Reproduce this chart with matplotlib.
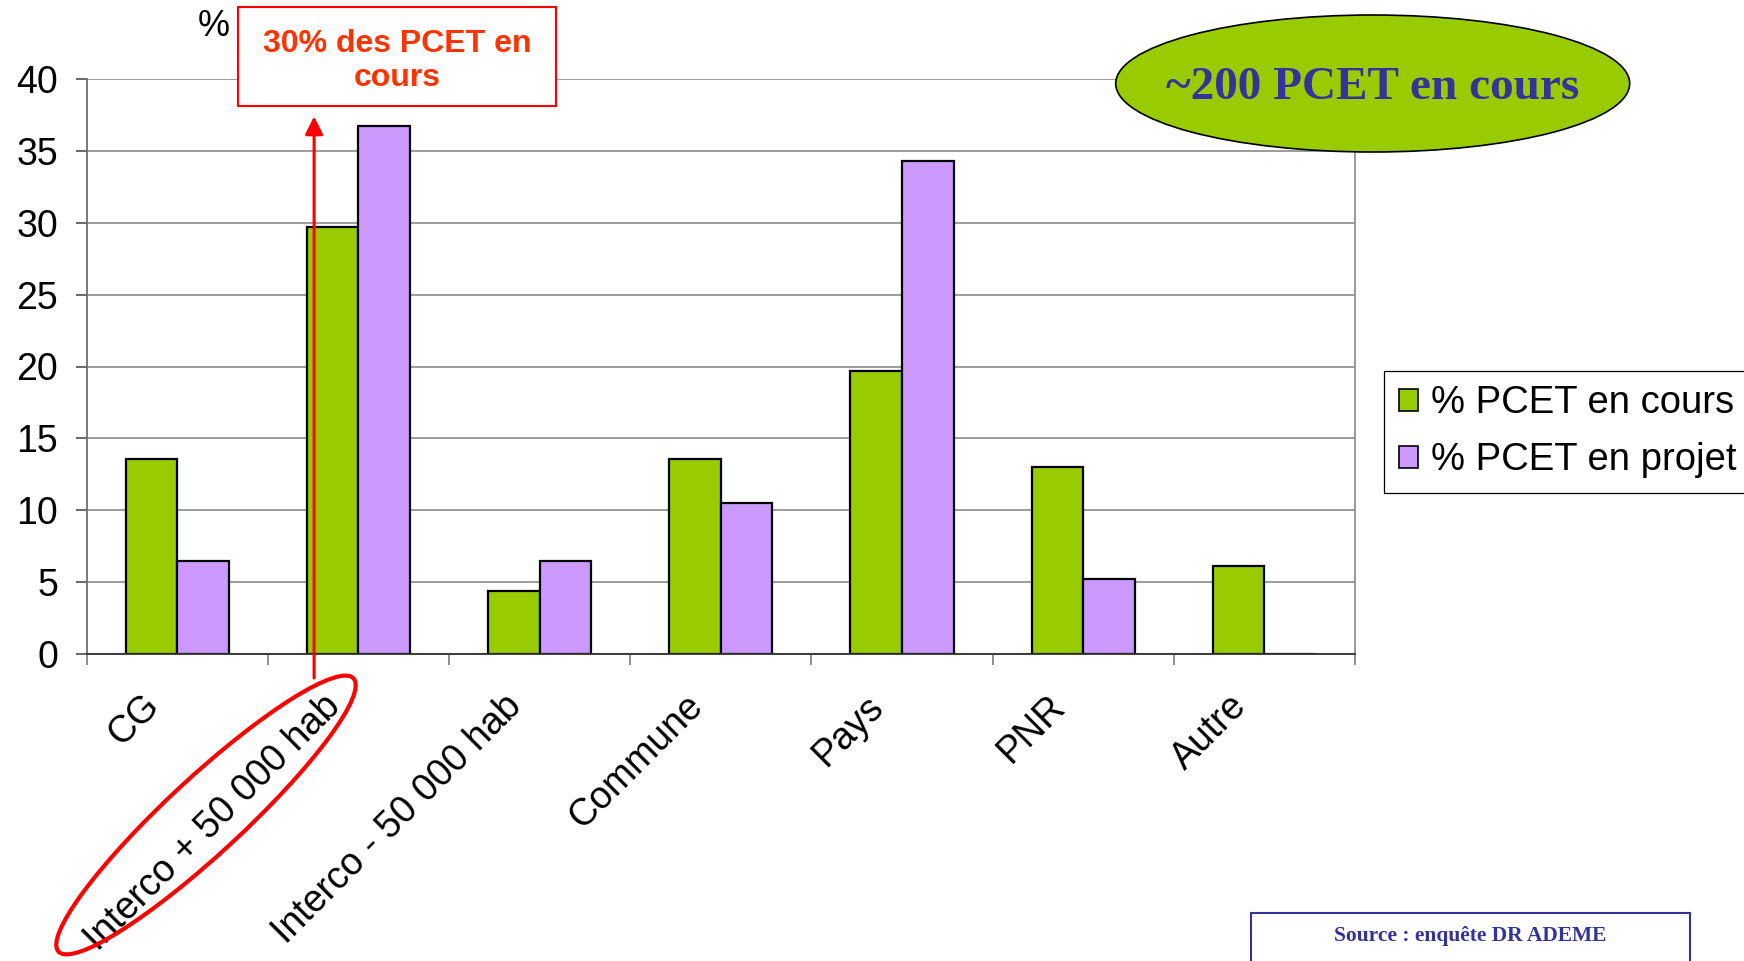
import matplotlib.pyplot as plt
import matplotlib.transforms as mtransforms
import numpy as np
from matplotlib.patches import Ellipse, Rectangle

plt.rcParams["font.family"] = ["Liberation Sans", "DejaVu Sans"]

categories = [
    "CG",
    "Interco + 50 000 hab",
    "Interco - 50 000 hab",
    "Commune",
    "Pays",
    "PNR",
    "Autre",
]
en_cours = [13.6, 29.7, 4.4, 13.6, 19.7, 13.0, 6.1]
en_projet = [6.5, 36.7, 6.5, 10.5, 34.3, 5.2, 0.0]
series_labels = ["% PCET en cours", "% PCET en projet"]
y_ticks = [0, 5, 10, 15, 20, 25, 30, 35, 40]

GREEN = "#99CC00"
PURPLE = "#CC99FF"
NAVY = "#333399"

W, H = 17.44, 9.61
fig = plt.figure(figsize=(W, H), dpi=100)
ax = fig.add_axes([86.7 / 1744, 1 - 654 / 961, (1355 - 86.7) / 1744, (654 - 79) / 961])

x = np.arange(len(categories))
bw = 0.285
ax.bar(x - bw / 2, en_cours, bw, color=GREEN, edgecolor="black", linewidth=1.6,
       label=series_labels[0], zorder=2)
ax.bar(x + bw / 2, en_projet, bw, color=PURPLE, edgecolor="black", linewidth=1.6,
       label=series_labels[1], zorder=2)

ax.set_xlim(-0.5, len(categories) - 0.5)
ax.set_ylim(0, 40)
ax.set_yticks(y_ticks)
ax.yaxis.grid(True, color="#808080", linewidth=1.1)
ax.set_axisbelow(True)

# category labels: rotated, end of text sits a little left of the category centre
ax.set_xticks(x)
ax.set_xticklabels([])
ax.set_xticks(np.arange(-0.5, len(categories), 1), minor=True)
ax.tick_params(axis="x", which="major", length=0)
ax.tick_params(axis="x", which="minor", length=8, width=1.1, color="#707070", direction="out")
ax.tick_params(axis="y", length=8, width=1.1, color="#404040", pad=12.5, labelsize=27)
lab_tr = ax.get_xaxis_transform() + mtransforms.ScaledTranslation(-0.36, -0.34, fig.dpi_scale_trans)
for xi, name in zip(x, categories):
    ax.text(xi, 0, name, transform=lab_tr, rotation=45, ha="right", va="top",
            rotation_mode="anchor", fontsize=27, clip_on=False)

ax.spines["top"].set_visible(False)
ax.spines["right"].set_color("#909090")
ax.spines["right"].set_linewidth(1.3)
ax.spines["left"].set_color("#707070")
ax.spines["left"].set_linewidth(1.3)
ax.spines["bottom"].set_color("#303030")
ax.spines["bottom"].set_linewidth(1.3)

fig.text(214 / 1744, 1 - 27 / 961, "%", ha="center", va="center", fontsize=26)

# callout box
fig.add_artist(Rectangle((2.38, (961 - 106) / 100), 3.18, 0.99, transform=fig.dpi_scale_trans,
                         facecolor="white", edgecolor="#FF0000", linewidth=1.5, zorder=5))
fig.text(3.97, (961 - 61) / 100, "30% des PCET en\ncours", transform=fig.dpi_scale_trans,
         ha="center", va="center", color="#FF3300", fontsize=23, fontweight="bold",
         linespacing=1.2, zorder=6)

# arrow from the highlighted label up to the callout
ax.annotate("", xy=(0.755, 37.4), xytext=(0.755, -1.67),
            arrowprops=dict(arrowstyle="-|>", color="#FF0000", lw=2.2, mutation_scale=27,
                            shrinkA=0, shrinkB=0),
            annotation_clip=False, zorder=4)

fig.add_artist(Ellipse((2.06, (961 - 815) / 100), 4.02, 0.76, angle=42.8,
                       transform=fig.dpi_scale_trans, facecolor="none",
                       edgecolor="#FF0000", linewidth=3, zorder=5))

# green ellipse
fig.add_artist(Ellipse((13.727, (961 - 83.5) / 100), 5.14, 1.37, transform=fig.dpi_scale_trans,
                       facecolor=GREEN, edgecolor="black", linewidth=1.2, zorder=5))
fig.text(13.73, (961 - 99) / 100, "~200 PCET en cours", transform=fig.dpi_scale_trans,
         ha="center", va="baseline", color=NAVY, fontsize=34, fontweight="bold",
         family="Liberation Serif", zorder=6)

leg = fig.legend(loc="upper left", bbox_to_anchor=(1384 / 1744, 1 - 370.7 / 961),
                 fontsize=27.5, frameon=True, fancybox=False, framealpha=1,
                 edgecolor="black", borderpad=0.38, borderaxespad=0, labelspacing=0.55,
                 handlelength=0.5, handleheight=0.5, handletextpad=0.35)
leg.get_frame().set_linewidth(0.9)
for h in leg.legend_handles:
    h.set_linewidth(1.2)

# source box
fig.add_artist(Rectangle((12.507, -0.3), 4.393, 9.61 - 9.133 + 0.3, transform=fig.dpi_scale_trans,
                         facecolor="white", edgecolor=NAVY, linewidth=1.5, zorder=5))
fig.text(14.70, (961 - 940.7) / 100, "Source : enquête DR ADEME", transform=fig.dpi_scale_trans,
         ha="center", va="baseline", color=NAVY, fontsize=15.5, fontweight="bold",
         family="Liberation Serif", zorder=6)

fig.savefig("out.png", dpi=100)
